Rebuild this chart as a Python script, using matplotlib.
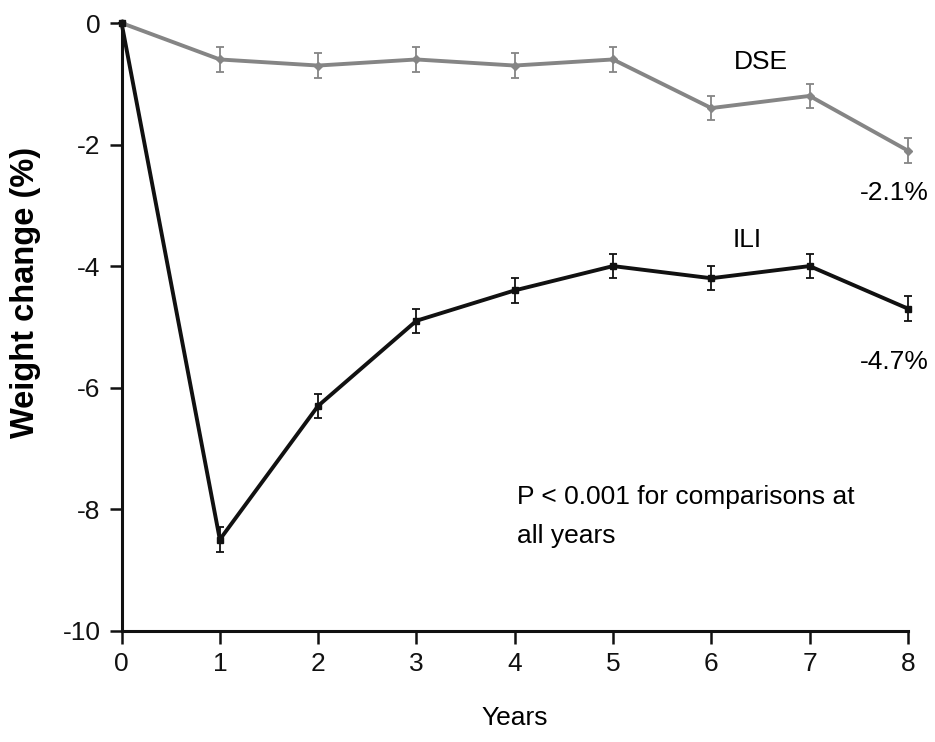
import matplotlib
matplotlib.use("Agg")
import matplotlib.pyplot as plt

plt.rcParams['font.family'] = ['Liberation Sans', 'DejaVu Sans']

years = [0, 1, 2, 3, 4, 5, 6, 7, 8]
dse = [0, -0.6, -0.7, -0.6, -0.7, -0.6, -1.4, -1.2, -2.1]
dse_err = [0, 0.2, 0.2, 0.2, 0.2, 0.2, 0.2, 0.2, 0.2]
ili = [0, -8.5, -6.3, -4.9, -4.4, -4.0, -4.2, -4.0, -4.7]
ili_err = [0, 0.2, 0.2, 0.2, 0.2, 0.2, 0.2, 0.2, 0.2]
yticks = [0, -2, -4, -6, -8, -10]
xticks = years

fig = plt.figure(figsize=(9.35, 7.42), dpi=100)
ax = fig.add_axes([0.130, 0.150, 0.841, 0.819])

ax.errorbar(years, dse, yerr=dse_err, color='#858585', lw=2.8, marker='D', ms=4,
            capsize=3, elinewidth=1.3, capthick=1.3, clip_on=False, zorder=3)
ax.errorbar(years, ili, yerr=ili_err, color='#111111', lw=2.8, marker='s', ms=4.5,
            capsize=3, elinewidth=1.3, capthick=1.3, clip_on=False, zorder=4)

ax.set_xlim(0, 8)
ax.set_ylim(-10, 0)
ax.set_xticks(xticks)
ax.set_yticks(yticks)
ax.set_yticklabels([str(v) for v in yticks])
for s in ['top', 'right']:
    ax.spines[s].set_visible(False)
for s in ['left', 'bottom']:
    ax.spines[s].set_linewidth(2.2)
    ax.spines[s].set_color('#111111')
ax.tick_params(axis='both', length=9, width=1.8, labelsize=19, colors='#111111', pad=6)

ax.set_xlabel('Years', fontsize=19, labelpad=22)
ax.set_ylabel('Weight change (%)', fontsize=23.5, fontweight='bold')
ax.yaxis.set_label_coords(-0.102, 0.557)

ax.text(6.51, -0.64, 'DSE', fontsize=19, ha='center', va='center')
ax.text(6.37, -3.57, 'ILI', fontsize=19, ha='center', va='center')
ax.text(7.86, -2.80, '-2.1%', fontsize=19, ha='center', va='center')
ax.text(7.86, -5.58, '-4.7%', fontsize=19, ha='center', va='center')
ax.text(4.02, -7.60, 'P < 0.001 for comparisons at\nall years', fontsize=19,
        ha='left', va='top', linespacing=1.8)

fig.savefig('out.png', dpi=100)
